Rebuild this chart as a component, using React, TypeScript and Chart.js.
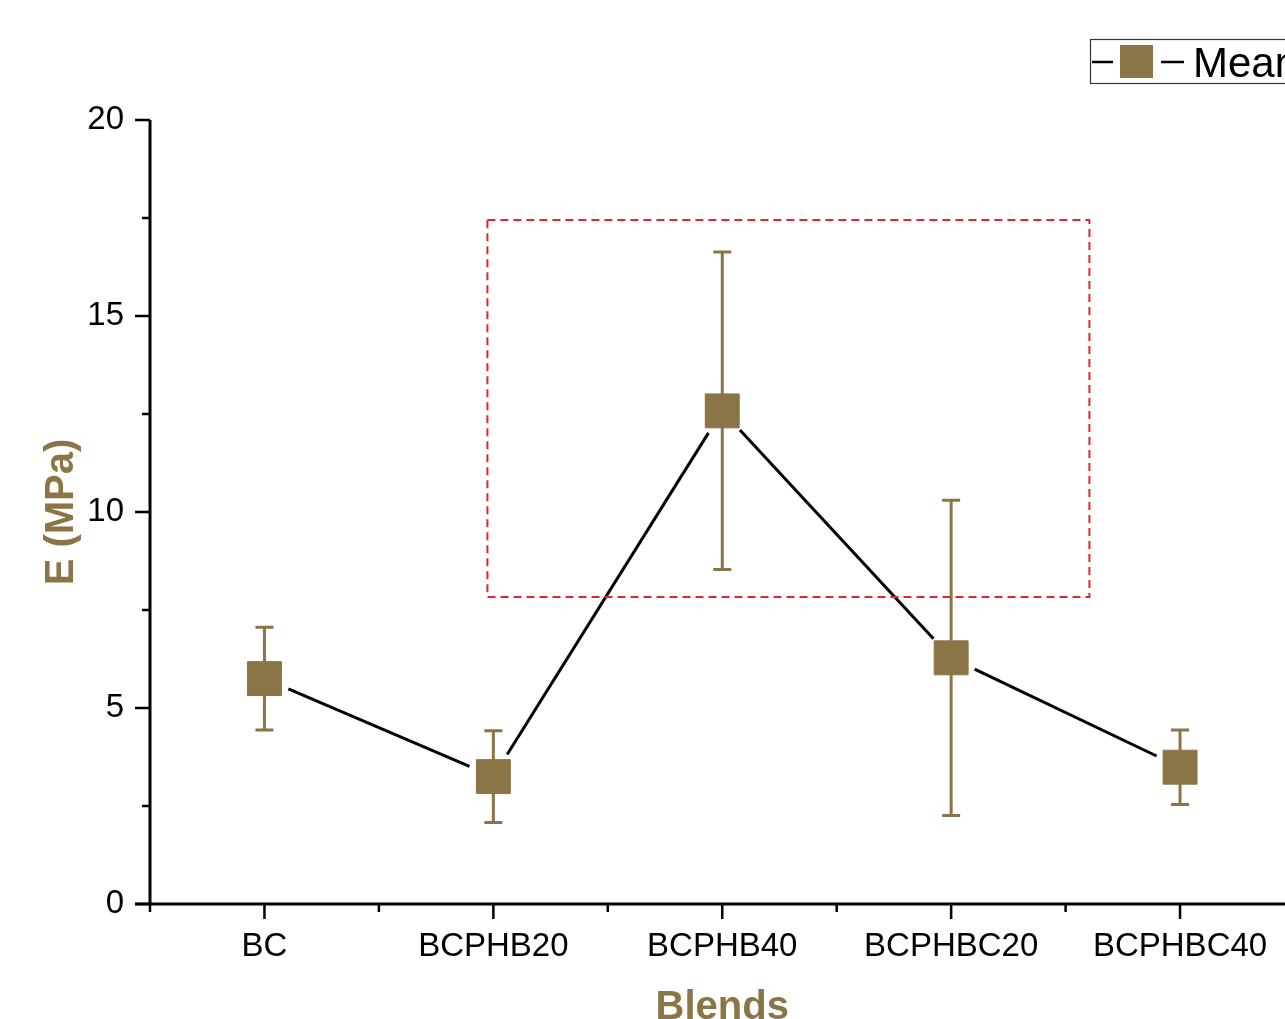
import React, { useEffect, useRef } from 'react';
import { Chart, registerables } from 'chart.js';

Chart.register(...registerables);

// ---- data ----
const categories = ['BC', 'BCPHB20', 'BCPHB40', 'BCPHBC20', 'BCPHBC40'];
const meanValues = [5.75, 3.25, 12.58, 6.28, 3.49];
const sdValues = [1.31, 1.17, 4.05, 4.02, 0.95];
const yTickValues = [0, 5, 10, 15, 20];
const yMinorTickValues = [2.5, 7.5, 12.5, 17.5];
const highlightX = [0.974, 3.604]; // category-index units
const highlightY = [7.83, 17.45];
const seriesLabel = 'Mean';
const xTitle = 'Blends';
const yTitle = 'E (MPa)';

// ---- style ----
const BROWN = '#8B7547';
const FONT = '"Liberation Sans", Arial, sans-serif';
const W = 1400;
const H = 1070;
const AREA_LEFT = 150;
const AREA_TOP = 120;
const AREA_RIGHT = 1294.5;
const AREA_BOTTOM = 904;

const decorPlugin = {
  id: 'decor',
  beforeDatasetsDraw(chart: any) {
    const ctx = chart.ctx;
    const meta = chart.getDatasetMeta(0);
    const y = chart.scales.y;
    ctx.save();
    // connecting line with gaps around markers
    ctx.strokeStyle = '#000';
    ctx.lineWidth = 3;
    const gap = 26;
    for (let i = 0; i < meta.data.length - 1; i++) {
      const a = meta.data[i];
      const b = meta.data[i + 1];
      const dx = b.x - a.x;
      const dy = b.y - a.y;
      const len = Math.hypot(dx, dy);
      if (len <= gap * 2) continue;
      const ux = dx / len;
      const uy = dy / len;
      ctx.beginPath();
      ctx.moveTo(a.x + ux * gap, a.y + uy * gap);
      ctx.lineTo(b.x - ux * gap, b.y - uy * gap);
      ctx.stroke();
    }
    // error bars
    ctx.strokeStyle = BROWN;
    ctx.lineWidth = 3;
    meta.data.forEach((p: any, i: number) => {
      const top = y.getPixelForValue(meanValues[i] + sdValues[i]);
      const bot = y.getPixelForValue(meanValues[i] - sdValues[i]);
      ctx.beginPath();
      ctx.moveTo(p.x, top);
      ctx.lineTo(p.x, bot);
      ctx.moveTo(p.x - 9, top);
      ctx.lineTo(p.x + 9, top);
      ctx.moveTo(p.x - 9, bot);
      ctx.lineTo(p.x + 9, bot);
      ctx.stroke();
    });
    ctx.restore();
  },
  afterDraw(chart: any) {
    const ctx = chart.ctx;
    const x = chart.scales.x;
    const y = chart.scales.y;
    const area = chart.chartArea;
    ctx.save();
    // axes
    ctx.strokeStyle = '#000';
    ctx.lineWidth = 3;
    ctx.beginPath();
    ctx.moveTo(area.left, area.top);
    ctx.lineTo(area.left, area.bottom);
    ctx.moveTo(area.left - 15, area.bottom);
    ctx.lineTo(area.right, area.bottom);
    ctx.stroke();
    ctx.lineWidth = 2.5;
    ctx.beginPath();
    yTickValues.forEach((v) => {
      const py = y.getPixelForValue(v);
      ctx.moveTo(area.left - 15, py);
      ctx.lineTo(area.left, py);
    });
    yMinorTickValues.forEach((v) => {
      const py = y.getPixelForValue(v);
      ctx.moveTo(area.left - 8, py);
      ctx.lineTo(area.left, py);
    });
    categories.forEach((_c, i) => {
      const px = x.getPixelForValue(i);
      ctx.moveTo(px, area.bottom);
      ctx.lineTo(px, area.bottom + 15);
    });
    for (let i = 0; i <= categories.length; i++) {
      const px = x.getPixelForValue(i - 0.5);
      ctx.moveTo(px, area.bottom);
      ctx.lineTo(px, area.bottom + 8);
    }
    ctx.stroke();

    // axis titles
    ctx.fillStyle = BROWN;
    ctx.font = `bold 40px ${FONT}`;
    ctx.textAlign = 'center';
    ctx.textBaseline = 'alphabetic';
    ctx.fillText(xTitle, (area.left + area.right) / 2, 1019);
    ctx.save();
    ctx.translate(73, (area.top + area.bottom) / 2);
    ctx.rotate(-Math.PI / 2);
    ctx.fillText(yTitle, 0, 0);
    ctx.restore();

    // highlight box
    const bx1 = x.getPixelForValue(highlightX[0]);
    const bx2 = x.getPixelForValue(highlightX[1]);
    const by1 = y.getPixelForValue(highlightY[1]);
    const by2 = y.getPixelForValue(highlightY[0]);
    ctx.strokeStyle = '#E8232B';
    ctx.lineWidth = 2;
    ctx.setLineDash([8, 5]);
    ctx.strokeRect(bx1, by1, bx2 - bx1, by2 - by1);
    ctx.setLineDash([]);

    // legend
    ctx.strokeStyle = '#333';
    ctx.lineWidth = 1.2;
    ctx.strokeRect(1090.5, 39.5, 400, 44);
    ctx.strokeStyle = '#000';
    ctx.lineWidth = 2.5;
    ctx.beginPath();
    ctx.moveTo(1092, 62);
    ctx.lineTo(1113, 62);
    ctx.moveTo(1161, 62);
    ctx.lineTo(1184, 62);
    ctx.stroke();
    ctx.fillStyle = BROWN;
    ctx.fillRect(1120, 45, 33, 33);
    ctx.fillStyle = '#000';
    ctx.font = `42px ${FONT}`;
    ctx.textAlign = 'left';
    ctx.fillText(seriesLabel, 1193, 77);
    ctx.restore();
  },
};

export default function App() {
  const ref = useRef<HTMLCanvasElement>(null);
  useEffect(() => {
    if (!ref.current) return;
    Chart.defaults.font.family = FONT;
    const chart = new Chart(ref.current, {
      type: 'line',
      data: {
        labels: categories,
        datasets: [
          {
            label: seriesLabel,
            data: meanValues,
            showLine: false,
            pointStyle: 'rect',
            pointRadius: 24,
            pointHoverRadius: 24,
            pointBackgroundColor: BROWN,
            pointBorderColor: BROWN,
            pointBorderWidth: 1,
          },
        ],
      },
      options: {
        responsive: false,
        animation: false,
        devicePixelRatio: 1,
        events: [],
        layout: { padding: { top: AREA_TOP, right: W - AREA_RIGHT, left: 0, bottom: 0 } },
        plugins: { legend: { display: false }, tooltip: { enabled: false } },
        scales: {
          x: {
            type: 'category',
            offset: true,
            grid: { display: false },
            border: { display: false },
            ticks: {
              color: '#000',
              font: { family: FONT, size: 33 },
              padding: 15,
              maxRotation: 0,
              autoSkip: false,
            },
            afterFit: (s: any) => {
              s.height = H - AREA_BOTTOM;
            },
          },
          y: {
            min: 0,
            max: 20,
            grid: { display: false },
            border: { display: false },
            ticks: {
              color: '#000',
              font: { family: FONT, size: 33 },
              padding: 18,
            },
            afterBuildTicks: (s: any) => {
              s.ticks = yTickValues.map((v) => ({ value: v }));
            },
            afterFit: (s: any) => {
              s.width = AREA_LEFT;
            },
          },
        },
      },
      plugins: [decorPlugin],
    } as any);
    return () => chart.destroy();
  }, []);
  return (
    <div
      style={{
        position: 'absolute',
        left: 0,
        top: 0,
        width: 1285,
        height: 1019,
        overflow: 'hidden',
        background: '#fff',
      }}
    >
      <canvas ref={ref} width={W} height={H} style={{ display: 'block', width: W, height: H }} />
    </div>
  );
}
